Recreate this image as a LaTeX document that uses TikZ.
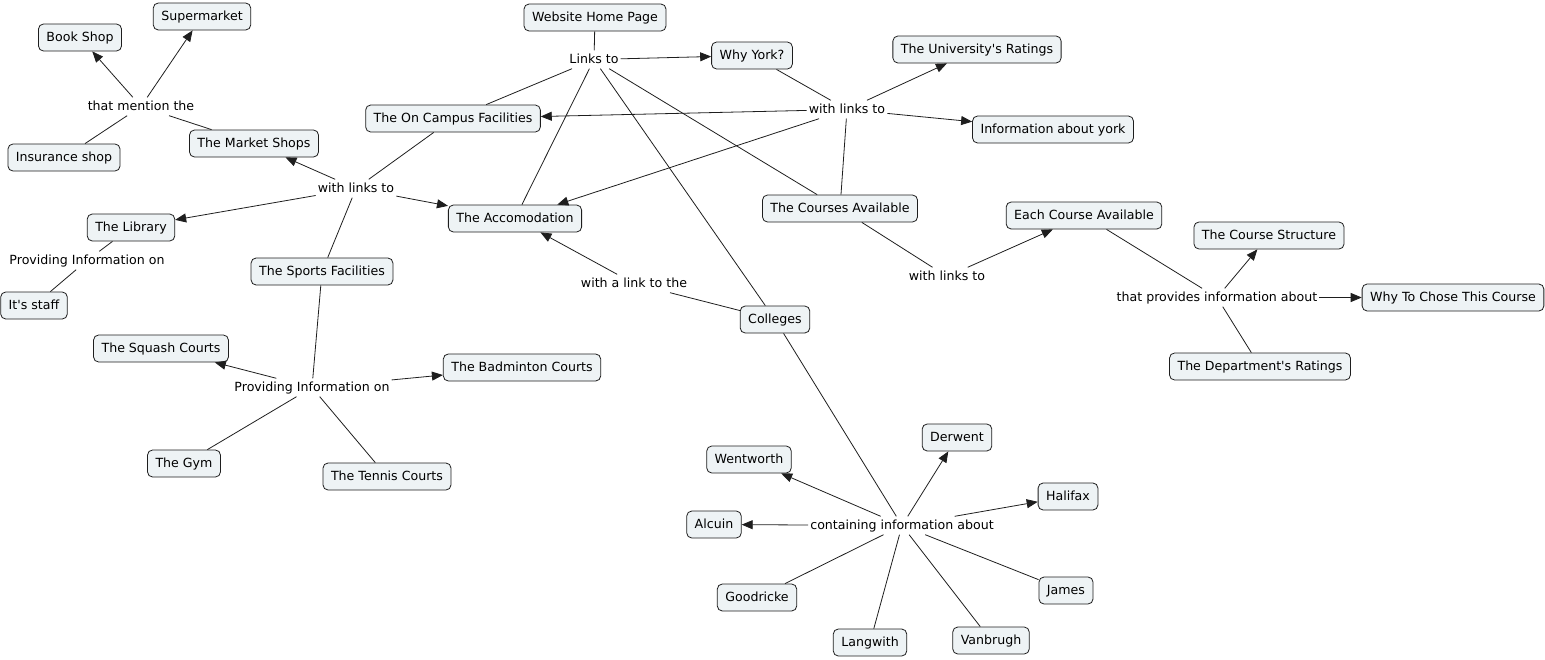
\documentclass[tikz,border=0pt]{standalone}
\usepackage{fontspec}
\setmainfont{DejaVu Sans}[Ligatures=TeXOff]
\usetikzlibrary{arrows.meta}
\definecolor{cfill}{RGB}{238,243,245}
\definecolor{cline}{RGB}{30,30,30}
\begin{document}
\begin{tikzpicture}[x=1pt,y=-1pt,
  every node/.style={font=\fontsize{12.6}{14}\selectfont},
  concept/.style={draw=cline,fill=cfill,rounded corners=5pt,inner xsep=8pt,inner ysep=0pt,minimum height=27pt,text height=9.5pt,text depth=2.5pt,line width=0.8pt},
  phrase/.style={inner xsep=2pt,inner ysep=3pt,text height=9.5pt,text depth=2.5pt},
  con/.style={draw=cline,line width=0.8pt},
  arr/.style={con,-{Triangle[length=11pt,width=9pt]}}]
\useasboundingbox (0,-1.5) rectangle (1545,657.5);
% concepts
\node[concept] (sup) at (202,15) {Supermarket};
\node[concept] (book) at (80,36) {Book Shop};
\node[concept] (ins) at (64,156) {Insurance shop};
\node[concept] (mkt) at (254,142) {The Market Shops};
\node[concept] (onc) at (453,117) {The On Campus Facilities};
\node[concept] (web) at (595,16) {Website Home Page};
\node[concept] (why) at (752,54) {Why York?};
\node[concept] (urat) at (977,48) {The University's Ratings};
\node[concept] (infy) at (1053,128) {Information about york};
\node[concept] (acc) at (515,217) {The Accomodation};
\node[concept] (crs) at (840,207) {The Courses Available};
\node[concept] (each) at (1084,214) {Each Course Available};
\node[concept] (cstr) at (1269,234) {The Course Structure};
\node[concept] (whyc) at (1453,296) {Why To Chose This Course};
\node[concept] (dept) at (1260,365) {The Department's Ratings};
\node[concept] (lib) at (131,226) {The Library};
\node[concept] (staff) at (34,304) {It's staff};
\node[concept] (spf) at (322,270) {The Sports Facilities};
\node[concept] (squ) at (161,347) {The Squash Courts};
\node[concept] (bad) at (522,366) {The Badminton Courts};
\node[concept] (gym) at (184,462) {The Gym};
\node[concept] (ten) at (387,475) {The Tennis Courts};
\node[concept] (col) at (775,318) {Colleges};
\node[concept] (went) at (749,458) {Wentworth};
\node[concept] (der) at (957,436) {Derwent};
\node[concept] (hal) at (1068,495) {Halifax};
\node[concept] (alc) at (714,523) {Alcuin};
\node[concept] (good) at (757,596) {Goodricke};
\node[concept] (lang) at (870,641) {Langwith};
\node[concept] (van) at (991,639) {Vanbrugh};
\node[concept] (jam) at (1066,589) {James};
% linking phrases
\node[phrase] (lmen) at (141,105) {that mention the};
\node[phrase] (lwl1) at (356,187) {with links to};
\node[phrase] (llinks) at (594,58) {Links to};
\node[phrase] (lwl2) at (847,108) {with links to};
\node[phrase] (lpi1) at (87,259) {Providing Information on};
\node[phrase] (lalink) at (634,282) {with a link to the};
\node[phrase] (lwl3) at (947,275) {with links to};
\node[phrase] (lprov) at (1217,296) {that provides information about};
\node[phrase] (lpi2) at (312,386) {Providing Information on};
\node[phrase] (lcont) at (902,524) {containing information about};
% connectors
\draw[con] (mkt) -- (lmen);
\draw[arr] (lmen) -- (book);
\draw[arr] (lmen) -- (sup);
\draw[con] (lmen) -- (ins);
\draw[con] (onc) -- (lwl1);
\draw[arr] (lwl1) -- (mkt);
\draw[arr] (lwl1) -- (acc);
\draw[arr] (lwl1) -- (lib);
\draw[con] (lwl1) -- (spf);
\draw[con] (lib) -- (lpi1);
\draw[con] (lpi1) -- (staff);
\draw[con] (web) -- (llinks);
\draw[arr] (llinks) -- (why);
\draw[con] (llinks) -- (onc);
\draw[con] (llinks) -- (acc);
\draw[con] (llinks) -- (col);
\draw[con] (llinks) -- (crs);
\draw[con] (why) -- (lwl2);
\draw[arr] (lwl2) -- (urat);
\draw[arr] (lwl2) -- (infy);
\draw[arr] (lwl2) -- (onc);
\draw[arr] (lwl2) -- (acc);
\draw[con] (lwl2) -- (crs);
\draw[con] (crs) -- (lwl3);
\draw[arr] (lwl3) -- (each);
\draw[con] (each) -- (lprov);
\draw[arr] (lprov) -- (cstr);
\draw[arr] (lprov) -- (whyc);
\draw[con] (lprov) -- (dept);
\draw[con] (spf) -- (lpi2);
\draw[arr] (lpi2) -- (squ);
\draw[arr] (lpi2) -- (bad);
\draw[con] (lpi2) -- (gym);
\draw[con] (lpi2) -- (ten);
\draw[con] (col) -- (lalink);
\draw[arr] (lalink) -- (acc);
\draw[con] (col) -- (lcont);
\draw[arr] (lcont) -- (went);
\draw[arr] (lcont) -- (der);
\draw[arr] (lcont) -- (hal);
\draw[arr] (lcont) -- (alc);
\draw[con] (lcont) -- (good);
\draw[con] (lcont) -- (lang);
\draw[con] (lcont) -- (van);
\draw[con] (lcont) -- (jam);
\end{tikzpicture}
\end{document}
